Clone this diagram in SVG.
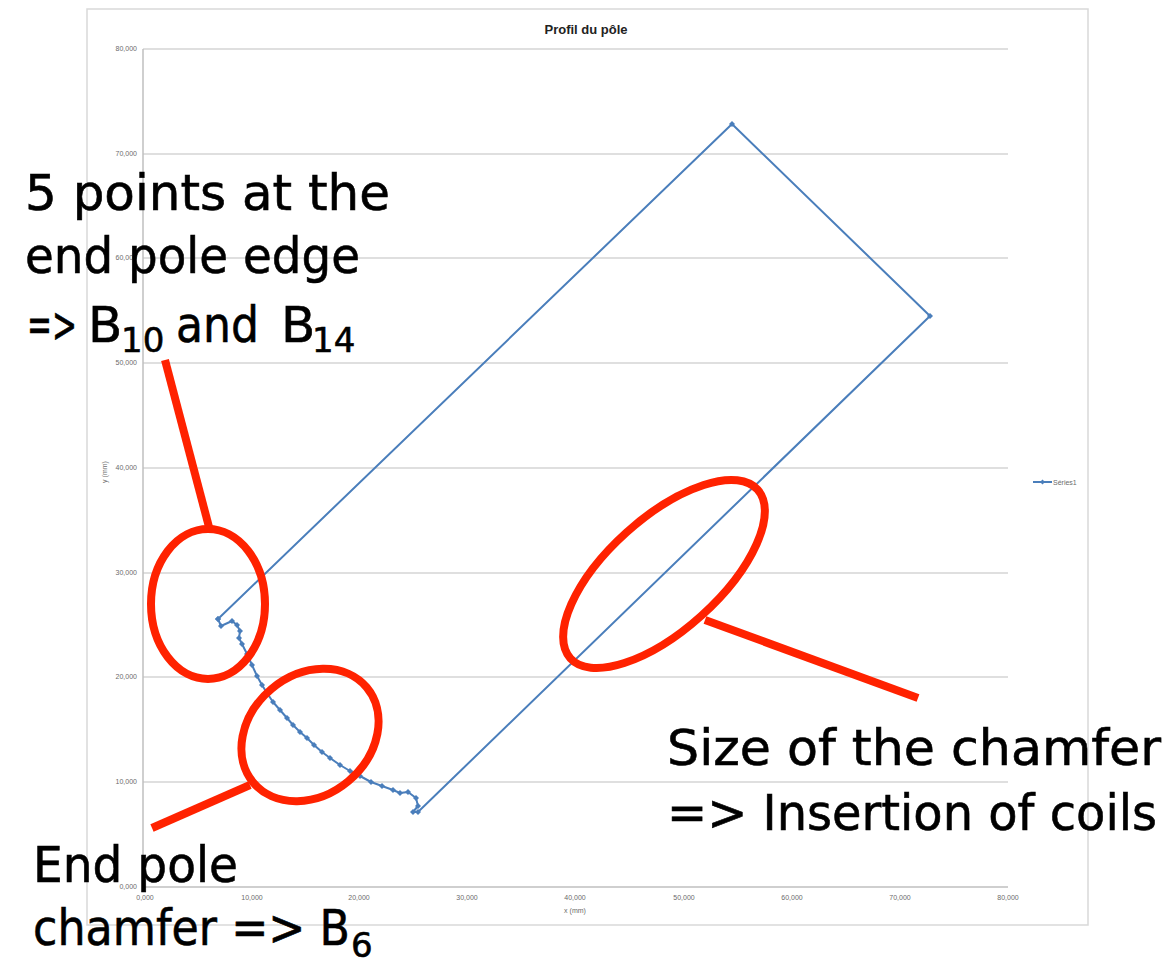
<svg xmlns="http://www.w3.org/2000/svg" width="1172" height="964" viewBox="0 0 1172 964">
<style>
.grid{stroke:#d4d4d4;stroke-width:1.5;fill:none}
.axis{stroke:#bfbfbf;stroke-width:1.5;fill:none}
.tick{font-family:"Liberation Sans",Arial,sans-serif;font-size:7px;fill:#6b6b6b}
.series{stroke:#4a7ebb;stroke-width:2;fill:none;stroke-linejoin:round}
.red{stroke:#ff2200;stroke-width:8;fill:none;stroke-linecap:butt}
.big{font-family:"DejaVu Sans","Liberation Sans",sans-serif;font-size:50px;fill:#000;stroke:#000;stroke-width:0.6}
.sub{font-size:34px}
</style>
<defs>
<marker id="dia" viewBox="-3 -3 6 6" markerWidth="6" markerHeight="6" markerUnits="userSpaceOnUse">
<path d="M0,-3L3,0L0,3L-3,0Z" fill="#4a7ebb"/>
</marker>
</defs>
<rect width="1172" height="964" fill="#ffffff"/>
<g id="chart">
<rect x="87" y="9" width="1001" height="916" fill="#ffffff" stroke="#d9d9d9" stroke-width="1.5"/>
<text x="586" y="34" text-anchor="middle" font-family="Liberation Sans,Arial,sans-serif" font-size="12" font-weight="bold" fill="#222" textLength="83" lengthAdjust="spacingAndGlyphs">Profil du pôle</text>
<g class="grid">
<line x1="143" y1="49" x2="1008" y2="49"/>
<line x1="143" y1="154" x2="1008" y2="154"/>
<line x1="143" y1="258" x2="1008" y2="258"/>
<line x1="143" y1="363" x2="1008" y2="363"/>
<line x1="143" y1="468" x2="1008" y2="468"/>
<line x1="143" y1="573" x2="1008" y2="573"/>
<line x1="143" y1="677" x2="1008" y2="677"/>
<line x1="143" y1="782" x2="1008" y2="782"/>
</g>
<g class="axis">
<line x1="143" y1="49" x2="143" y2="887"/>
<line x1="143" y1="887" x2="1008" y2="887"/>
</g>
<g class="tick" text-anchor="end">
<text x="137" y="51">80,000</text>
<text x="137" y="156">70,000</text>
<text x="137" y="260">60,000</text>
<text x="137" y="365">50,000</text>
<text x="137" y="470">40,000</text>
<text x="137" y="575">30,000</text>
<text x="137" y="679">20,000</text>
<text x="137" y="784">10,000</text>
<text x="137" y="889">0,000</text>
</g>
<g class="tick" text-anchor="middle">
<text x="145" y="900">0,000</text>
<text x="252" y="900">10,000</text>
<text x="359" y="900">20,000</text>
<text x="467" y="900">30,000</text>
<text x="575" y="900">40,000</text>
<text x="684" y="900">50,000</text>
<text x="792" y="900">60,000</text>
<text x="900" y="900">70,000</text>
<text x="1008" y="900">80,000</text>
<text x="575" y="913">x (mm)</text>
<text transform="translate(107,472) rotate(-90)">y (mm)</text>
</g>
<g id="legend">
<line x1="1033" y1="482" x2="1052" y2="482" stroke="#4a7ebb" stroke-width="2"/>
<path d="M1042.5,479.5L1045,482L1042.5,484.5L1040,482Z" fill="#4a7ebb"/>
<text class="tick" x="1053" y="485">Séries1</text>
</g>
</g>
<g id="series1">
<polyline class="series" marker-start="url(#dia)" marker-mid="url(#dia)" marker-end="url(#dia)" points="218,619 732,124 930,316 418,812 413,812 418,806 416,798 408,792 400,793 393,790 382,786 371,782 360,776 350,771 340,765 330,758 322,752 314,745 307,738 300,732 293,725 287,718 280,710 273,702 267,693 262,685 257,676 252,665 247,654 242,644 239,638 240,631 237,625 232,621 221,626 218,619"/>
</g>
<g id="connectors">
<line class="red" x1="165" y1="360" x2="209" y2="527"/>
<line class="red" x1="152" y1="828" x2="250" y2="785"/>
<line class="red" x1="705" y1="620" x2="918" y2="698"/>
</g>
<g id="ellipse-edge">
<ellipse class="red" cx="208" cy="604" rx="57" ry="75"/>
</g>
<g id="ellipse-chamfer">
<ellipse class="red" cx="310" cy="735" rx="74" ry="60" transform="rotate(-40 310 735)"/>
</g>
<g id="ellipse-size">
<ellipse class="red" cx="664" cy="574" rx="126" ry="56" transform="rotate(-42 664 574)"/>
</g>
<g id="label-edge" class="big">
<text x="25" y="210" textLength="365" lengthAdjust="spacingAndGlyphs">5 points at the</text>
<text x="25" y="273" textLength="335" lengthAdjust="spacingAndGlyphs">end pole edge</text>
<text y="342"><tspan x="27" textLength="50" lengthAdjust="spacingAndGlyphs">=&gt;</tspan><tspan x="88">B</tspan><tspan x="121" y="352" class="sub">10</tspan><tspan x="176" y="342" textLength="83" lengthAdjust="spacingAndGlyphs">and</tspan><tspan x="281">B</tspan><tspan x="312" y="352" class="sub">14</tspan></text>
</g>
<g id="label-size" class="big">
<text x="667" y="765" textLength="494" lengthAdjust="spacingAndGlyphs">Size of the chamfer</text>
<text x="667" y="830" textLength="490" lengthAdjust="spacingAndGlyphs">=&gt; Insertion of coils</text>
</g>
<g id="label-chamfer" class="big">
<text x="33" y="882" textLength="205" lengthAdjust="spacingAndGlyphs">End pole</text>
<text y="945"><tspan x="33" textLength="317" lengthAdjust="spacingAndGlyphs">chamfer =&gt; B</tspan><tspan x="351" y="957" class="sub">6</tspan></text>
</g>
</svg>
